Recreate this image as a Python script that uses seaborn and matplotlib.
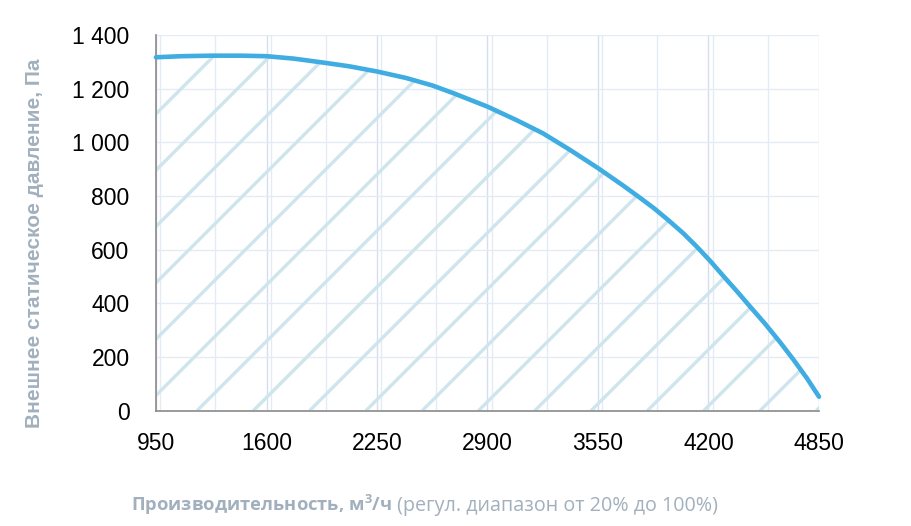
import numpy as np
import pandas as pd
import matplotlib
matplotlib.use('Agg')
import matplotlib.pyplot as plt
from matplotlib.ticker import MultipleLocator, FuncFormatter
import seaborn as sns

# flow, m3/h  vs  external static pressure, Pa
flow = [950, 1100, 1275, 1450, 1600, 1760, 1925, 2090, 2250, 2420, 2575, 2700,
        2900, 3070, 3225, 3385, 3550, 3700, 3800, 3880, 3960, 4050, 4130, 4210,
        4290, 4370, 4450, 4530, 4620, 4700, 4780, 4850]
pressure = [1317, 1321, 1323, 1323, 1321, 1312, 1298, 1283, 1264, 1240, 1212, 1183,
            1133, 1083, 1034, 972, 904, 838, 792, 754, 712, 662, 612, 558,
            500, 443, 384, 326, 256, 190, 120, 52]

x_ticks = [950, 1600, 2250, 2900, 3550, 4200, 4850]
y_ticks = [0, 200, 400, 600, 800, 1000, 1200, 1400]

xlabel_bold = r'Производительность, м$^{\mathbf{3}}$/ч'
xlabel_rest = ' (регул. диапазон от 20% до 100%)'
ylabel = 'Внешнее статическое давление, Па'

curve_color = '#3fade2'
hatch_color = '#cfe5ed'
grid_major = '#d3dff0'
grid_minor = '#e4ebf5'
spine_color = '#8a8a8a'
label_color = '#a2b0bd'

df = pd.DataFrame({'flow': flow, 'pressure': pressure})

sns.set_style('white')
plt.rcParams['font.family'] = ['Liberation Sans', 'DejaVu Sans']
plt.rcParams['mathtext.fontset'] = 'custom'
plt.rcParams['mathtext.rm'] = 'Open Sans'
plt.rcParams['mathtext.bf'] = 'Open Sans:bold'

fig = plt.figure(figsize=(9.12, 5.26), dpi=100)
ax = fig.add_axes([156 / 912, 1 - 410.7 / 526, 663 / 912, 375.7 / 526])

# area under curve (only used as clip path for the hatch)
area = ax.fill_between(df['flow'], df['pressure'], 0, facecolor='none', edgecolor='none')
clip = area.get_paths()[0]

# diagonal hatch lines, 45 deg in pixel space, ~56 px apart
w_px, h_px = 663.0, 375.7
step = 56.3 / w_px
x0 = (197 - 156) / w_px
for k in range(-8, 13):
    xs = x0 + k * step
    ln, = ax.plot([xs, xs + 1.0], [0, w_px / h_px], transform=ax.transAxes,
                  color=hatch_color, lw=2.4, solid_capstyle='butt', zorder=1)
    ln.set_clip_path(clip, ax.transData)

sns.lineplot(data=df, x='flow', y='pressure', ax=ax, color=curve_color,
             lw=3.3, zorder=3, clip_on=False)

ax.set_xlim(950, 4850)
ax.set_ylim(0, 1400)
ax.set_xticks(x_ticks)
ax.xaxis.set_minor_locator(MultipleLocator(325))
ax.set_yticks(y_ticks)
ax.yaxis.set_major_formatter(FuncFormatter(lambda v, p: f'{int(v):,}'.replace(',', ' ')))

ax.grid(True, which='major', axis='x', color=grid_major, lw=1.0, zorder=0)
ax.grid(True, which='minor', axis='x', color=grid_minor, lw=1.0, zorder=0)
ax.grid(True, which='major', axis='y', color=grid_minor, lw=1.0, zorder=0)
ax.set_axisbelow(True)

for s in ['top', 'right']:
    ax.spines[s].set_visible(False)
for s in ['left', 'bottom']:
    ax.spines[s].set_color(spine_color)
    ax.spines[s].set_linewidth(1.2)

ax.tick_params(axis='x', which='both', direction='out', length=6, width=1.2,
               color=spine_color, labelsize=16.5, pad=9, labelcolor='black')
ax.tick_params(axis='x', which='minor', length=6)
ax.tick_params(axis='y', which='major', direction='out', length=6, width=1.2,
               color=spine_color, labelsize=16.5, pad=13, labelcolor='black')
ax.set_xlabel('')
ax.set_ylabel('')

fig.text(35 / 912, 1 - 243 / 526, ylabel, rotation=90, ha='center', va='center',
         fontsize=15, fontweight='bold', color=label_color, family=['Liberation Sans', 'DejaVu Sans'])

t1 = fig.text(131 / 912, 1 - 511 / 526, xlabel_bold, ha='left', va='baseline',
              fontsize=13.2, fontweight='bold', color=label_color, family=['Open Sans', 'DejaVu Sans'])
fig.canvas.draw()
bb = t1.get_window_extent()
fig.text(bb.x1 / 912, 1 - 511 / 526, xlabel_rest, ha='left', va='baseline',
         fontsize=14.2, color=label_color, family=['Open Sans', 'DejaVu Sans'])

fig.savefig('out.png', dpi=100)
